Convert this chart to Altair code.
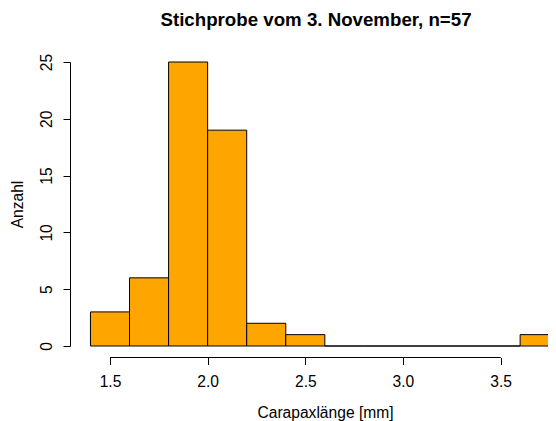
import altair as alt
import pandas as pd

bin_start = [1.4, 1.6, 1.8, 2.0, 2.2, 2.4, 2.6, 2.8, 3.0, 3.2, 3.4, 3.6]
bin_end = [1.6, 1.8, 2.0, 2.2, 2.4, 2.6, 2.8, 3.0, 3.2, 3.4, 3.6, 3.8]
counts = [3, 6, 25, 19, 2, 1, 0, 0, 0, 0, 0, 1]
x_ticks = [1.5, 2.0, 2.5, 3.0, 3.5]
y_ticks = [0, 5, 10, 15, 20, 25]

FONT = "Liberation Sans"
W, H = 478, 284

df = pd.DataFrame({"start": bin_start, "end": bin_end, "count": counts})
axis_df = pd.DataFrame({"lo": [min(x_ticks)], "hi": [max(x_ticks)]})

xscale = alt.Scale(domain=[1.2952, 3.7427], nice=False, zero=False)
yscale = alt.Scale(domain=[0, 25], nice=False)

bars = alt.Chart(df).mark_rect(
    fill="#FFA500", stroke="black", strokeWidth=1
).encode(
    x=alt.X("start:Q", scale=xscale,
            axis=alt.Axis(values=x_ticks, format=".1f", domain=False, grid=False,
                          offset=11.5, tickSize=7, tickColor="black", tickWidth=1,
                          labelFont=FONT, labelFontSize=15.6, labelColor="black",
                          labelPadding=10, labelFlush=False,
                          title="Carapaxlänge [mm]", titleFont=FONT, titleFontSize=15.6,
                          titleFontWeight="normal", titleColor="black",
                          titleX=255, titleY=60, titleBaseline="alphabetic",
                          titleAlign="center")),
    x2="end:Q",
    y=alt.Y("count:Q", scale=yscale,
            axis=alt.Axis(values=y_ticks, grid=False, domain=True, domainColor="black",
                          domainWidth=1, tickSize=7, tickColor="black", tickWidth=1,
                          labelAngle=-90, labelAlign="center", labelBaseline="bottom",
                          labelFont=FONT, labelFontSize=15.6, labelColor="black",
                          labelPadding=9, labelFlush=False,
                          title="Anzahl", titleFont=FONT, titleFontSize=15.6,
                          titleFontWeight="normal", titleColor="black",
                          titleAngle=-90, titleX=-47.3, titleY=142,
                          titleBaseline="alphabetic", titleAlign="center")),
    y2=alt.datum(0),
)

xline = alt.Chart(axis_df).mark_rule(color="black", strokeWidth=1).encode(
    x=alt.X("lo:Q", scale=xscale),
    x2="hi:Q",
    y=alt.value(H + 11.5),
)

chart = alt.layer(bars, xline).properties(
    width=W, height=H,
    autosize=alt.AutoSizeParams(type="none"),
    padding={"left": 62, "top": 54, "right": 0, "bottom": 75},
    title=alt.TitleParams(
        text="Stichprobe vom 3. November, n=57", font=FONT, fontSize=18.7,
        fontWeight="bold", color="black", anchor="middle", frame="group",
        baseline="alphabetic", offset=9, dx=7,
    ),
).configure_view(stroke=None)

chart.save("out.html", embed_options={"renderer": "svg", "actions": False})
